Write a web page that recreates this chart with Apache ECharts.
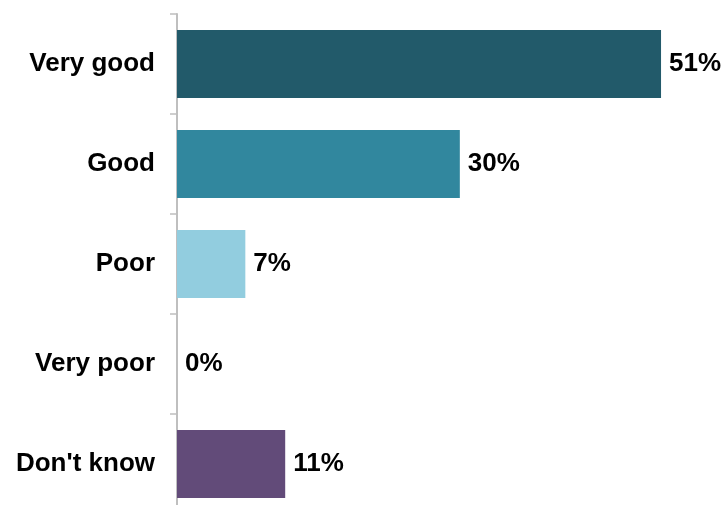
<!DOCTYPE html>
<html><head><meta charset="utf-8">
<script src="https://cdn.jsdelivr.net/npm/echarts@6/dist/echarts.min.js"></script>
<style>html,body{margin:0;padding:0;background:#fff}#c{width:726px;height:505px}</style>
</head><body><div id="c"></div>
<script>
const categories = ["Very good", "Good", "Poor", "Very poor", "Don't know"];
const values = [51, 29.8, 7.2, 0, 11.4];
const valueLabels = ["51%", "30%", "7%", "0%", "11%"];
const colors = ["#225a6a", "#31879e", "#92cddf", "#ffffff", "#624b79"];

const chart = echarts.init(document.getElementById('c'));
chart.setOption({
  animation: false,
  grid: { left: 177, top: 14, width: 522, height: 500, outerBoundsMode: 'none', containLabel: false },
  xAxis: { type: 'value', min: 0, max: 55, show: false },
  yAxis: {
    type: 'category', inverse: true, data: categories,
    axisLine: { show: true, lineStyle: { color: '#bfbfbf', width: 2 } },
    axisTick: { show: true, length: 7, lineStyle: { color: '#bfbfbf', width: 1.5 } },
    axisLabel: { margin: 22, color: '#000', fontFamily: 'Liberation Sans, Arial', fontWeight: 'bold', fontSize: 26 },
    splitLine: { show: false }
  },
  series: [{
    type: 'bar', barWidth: 68,
    data: values.map((v, i) => ({ value: v, itemStyle: { color: colors[i] } })),
    label: {
      show: true, position: 'right', distance: 8,
      formatter: p => valueLabels[p.dataIndex],
      color: '#000', fontFamily: 'Liberation Sans, Arial', fontWeight: 'bold', fontSize: 26
    }
  }]
});
</script></body></html>
